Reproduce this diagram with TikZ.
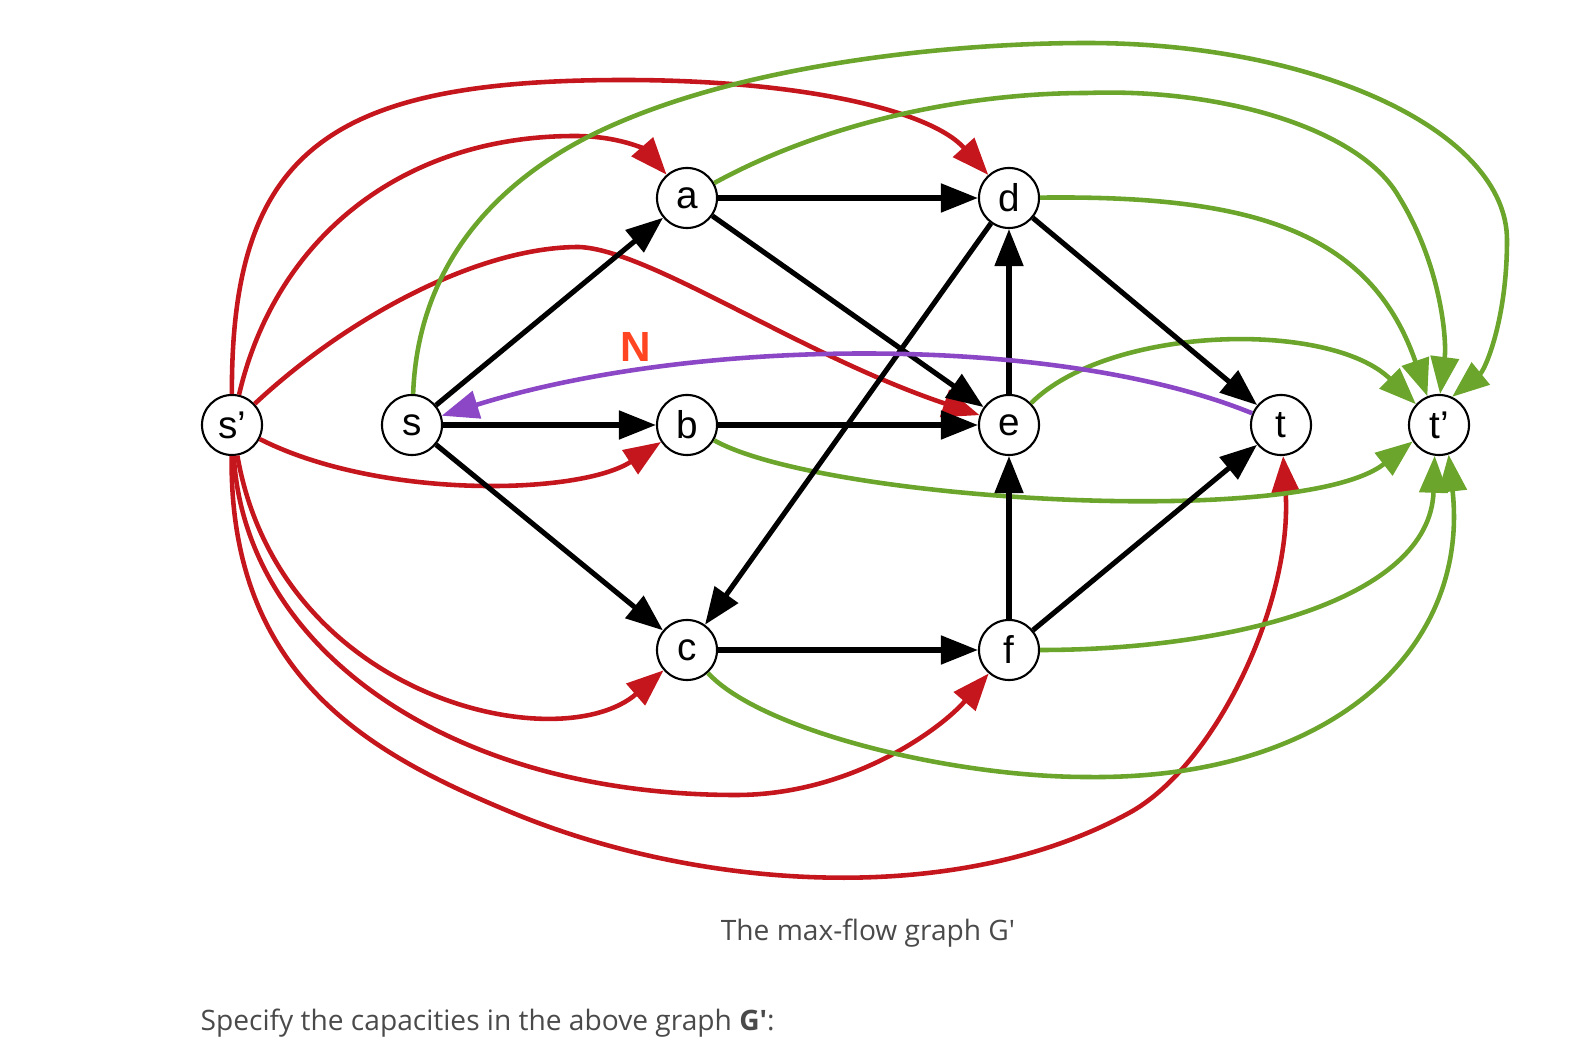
\documentclass[tikz,border=0pt]{standalone}
\usepackage{fontspec}
\setmainfont{Liberation Sans}
\newfontfamily\captfont{Open Sans}
\usetikzlibrary{arrows.meta}
\definecolor{srcred}{HTML}{C4161C}
\definecolor{snkgreen}{HTML}{6BA52B}
\definecolor{backpurple}{HTML}{8B47C6}
\definecolor{labred}{HTML}{FF4521}
\definecolor{captgray}{HTML}{4A4A4A}
\tikzset{vert/.style={circle,draw,line width=0.6pt,fill=white,minimum size=0.6cm,inner sep=0pt,font=\fontsize{11}{13}\selectfont},
  blk/.style={->,line width=1.45pt},
  src/.style={->,line width=1.3pt,srcred},
  snk/.style={->,line width=1.3pt,snkgreen},
  capt/.style={text=captgray,font=\captfont\fontsize{8}{10}\selectfont,inner sep=0pt}}

\begin{document}
\begin{tikzpicture}[x=0.01cm,y=-0.01cm,>={Triangle[length=0.37cm,width=0.28cm]},line join=round]
\useasboundingbox (0,0) rectangle (1572,1043);
% --- vertices
\node[vert] (sp) at (232,425) {s’};
\node[vert] (s) at (412,425) {s};
\node[vert] (a) at (687,198) {a};
\node[vert] (b) at (687,425) {b};
\node[vert] (c) at (687,650) {c};
\node[vert] (d) at (1009,198) {d};
\node[vert] (e) at (1009,425) {e};
\node[vert] (f) at (1009,650) {f};
\node[vert] (t) at (1281,425) {t};
\node[vert] (tp) at (1439,425) {t’};
% --- edges from s'
\draw[src] (sp) .. controls (231,150) and (330,80) .. (624,80) .. controls (800,80) and (930,110) .. (d);
\draw[src] (sp) .. controls (275,240) and (400,136) .. (575,136) .. controls (620,136) and (645,150) .. (a);
\draw[src] (sp) .. controls (350,315) and (480,247) .. (579,247) .. controls (650,250) and (800,355) .. (e);
\draw[src] (sp) .. controls (380,500) and (580,495) .. (b);
\draw[src] (sp) .. controls (280,700) and (560,760) .. (c);
\draw[src] (sp) .. controls (245,650) and (450,795) .. (736,795) .. controls (850,795) and (940,730) .. (f);
\draw[src] (sp) .. controls (229,680) and (375,756) .. (513,813) .. controls (697,889) and (953,909) .. (1129,813) .. controls (1217,765) and (1293,600) .. (t);
% --- edges into t'
\draw[snk] (s) .. controls (418,260) and (502,177) .. (602,130) .. controls (747,62) and (960,43) .. (1087,43) .. controls (1318,43) and (1507,132) .. (1507,240) .. controls (1507,320) and (1485,370) .. (tp.65);
\draw[snk] (a) .. controls (820,125) and (960,93) .. (1087,93) .. controls (1220,88) and (1360,128) .. (1399,197) .. controls (1441,265) and (1447,340) .. (tp.88);
\draw[snk] (d) .. controls (1250,195) and (1370,230) .. (tp.112);
\draw[snk] (e) .. controls (1110,325) and (1330,320) .. (tp.138);
\draw[snk] (b) .. controls (820,500) and (1300,530) .. (tp.-148);
\draw[snk] (f) .. controls (1230,650) and (1430,600) .. (tp.-98);
\draw[snk] (c) .. controls (760,730) and (950,777) .. (1087,777) .. controls (1330,780) and (1470,650) .. (tp.-72);
% --- edges of G
\draw[blk] (s) -- (a);
\draw[blk] (s) -- (b);
\draw[blk] (s) -- (c);
\draw[blk] (a) -- (d);
\draw[blk] (a) -- (e);
\draw[blk] (b) -- (e);
\draw[blk] (d) -- (c);
\draw[blk] (d) -- (t);
\draw[blk] (e) -- (d);
\draw[blk] (f) -- (e);
\draw[blk] (c) -- (f);
\draw[blk] (f) -- (t);
% --- back edge t -> s
\draw[->,line width=1.3pt,backpurple] (t) .. controls (1060,335) and (700,335) .. (s);
\node[text=labred,font=\bfseries\fontsize{12}{14}\selectfont] (N) at (636,347) {N};
% --- captions
\node[capt,anchor=base] (cap) at (868,940) {The max-flow graph G\textquotesingle};
\node[capt,anchor=base west] (ask) at (200,1030) {Specify the capacities in the above graph \textbf{G\textquotesingle}:};
\end{tikzpicture}
\end{document}
